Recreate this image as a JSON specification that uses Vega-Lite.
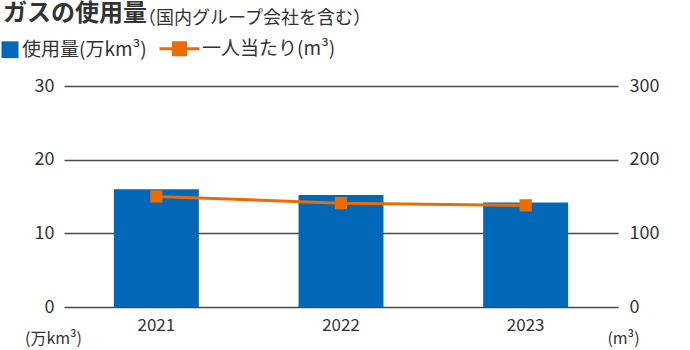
{
  "$schema": "https://vega.github.io/schema/vega-lite/v6.json",
  "autosize": {"type": "none"},
  "width": 554,
  "height": 221,
  "padding": {"left": 64, "top": 86, "right": 72, "bottom": 43},
  "background": "white",
  "config": {
    "font": "Noto Sans CJK JP",
    "view": {"stroke": null},
    "axis": {"labelFont": "Noto Sans CJK JP", "titleFont": "Noto Sans CJK JP", "labelColor": "#333333", "titleColor": "#333333"},
    "legend": {"labelFont": "Noto Sans CJK JP"}
  },
  "title": {
    "text": "ガスの使用量",
    "subtitle": "\u200b　　　　　　　　（国内グループ会社を含む）",
    "anchor": "start",
    "frame": "group",
    "dx": -61,
    "offset": 11,
    "font": "Noto Sans CJK JP",
    "fontSize": 24,
    "fontWeight": "bold",
    "color": "#333333",
    "subtitleFont": "Noto Sans CJK JP",
    "subtitleFontSize": 18,
    "subtitleColor": "#333333",
    "subtitlePadding": -16
  },
  "data": {
    "values": [
      {"year": "2021", "usage": 16.0, "per": 150},
      {"year": "2022", "usage": 15.2, "per": 141},
      {"year": "2023", "usage": 14.2, "per": 138}
    ]
  },
  "encoding": {
    "x": {
      "field": "year",
      "type": "nominal",
      "scale": {"paddingInner": 0.54, "paddingOuter": 0.27},
      "axis": {"title": null, "labelAngle": 0, "domain": false, "ticks": false, "labelPadding": 10, "labelFontSize": 17, "labelColor": "#333333"}
    }
  },
  "layer": [
    {
      "mark": {"type": "bar", "color": "#0068b7"},
      "encoding": {
        "y": {
          "field": "usage",
          "type": "quantitative",
          "scale": {"domain": [0, 30]},
          "axis": {
            "values": [0, 10, 20, 30],
            "grid": true,
            "gridColor": "#4a4a4a",
            "gridWidth": 1.6,
            "domain": false,
            "ticks": false,
            "labelPadding": 10,
            "labelFontSize": 18,
            "title": "(万km³)",
            "titleAngle": 0,
            "titleFontSize": 16,
            "titleFontWeight": "normal",
            "titleAlign": "center",
            "titleBaseline": "middle",
            "titleX": -11,
            "titleY": 252
          }
        },
        "color": {
          "datum": "使用量(万km³)",
          "scale": {"domain": ["使用量(万km³)", "一人当たり(m³)"], "range": ["#0068b7", "#ed6c00"]},
          "legend": {
            "title": null,
            "orient": "none",
            "direction": "horizontal",
            "legendX": -52,
            "legendY": -47,
            "padding": 0,
            "symbolSize": 1600,
            "labelFontSize": 19,
            "labelColor": "#333333",
            "labelOffset": 10,
            "columnPadding": 6,
            "encode": {
              "symbols": {
                "update": {
                  "shape": {"signal": "datum.value == '使用量(万km³)' ? 'M-1,-0.42H-0.15V0.42H-1Z' : 'M-1,0H1M-0.3,-0.3H0.3V0.3H-0.3Z'"},
                  "fill": {"signal": "datum.value == '使用量(万km³)' ? '#0068b7' : '#ed6c00'"},
                  "stroke": {"signal": "datum.value == '使用量(万km³)' ? '#0068b7' : '#ed6c00'"},
                  "strokeWidth": {"signal": "datum.value == '使用量(万km³)' ? 0 : 3"},
                  "opacity": {"value": 1},
                  "fillOpacity": {"value": 1}
                }
              },
              "labels": {
                "update": {
                  "dx": {"signal": "datum.value == '使用量(万km³)' ? -19 : 3"}
                }
              }
            }
          }
        }
      }
    },
    {
      "mark": {"type": "line", "color": "#ed6c00", "strokeWidth": 3, "point": {"shape": "square", "size": 150, "filled": true, "opacity": 1, "color": "#ed6c00"}},
      "encoding": {
        "y": {
          "field": "per",
          "type": "quantitative",
          "scale": {"domain": [0, 300]},
          "axis": {
            "orient": "right",
            "values": [0, 100, 200, 300],
            "grid": false,
            "domain": false,
            "ticks": false,
            "labelPadding": 11,
            "labelFontSize": 18,
            "title": "(m³)",
            "titleAngle": 0,
            "titleFontSize": 16,
            "titleFontWeight": "normal",
            "titleAlign": "center",
            "titleBaseline": "middle",
            "titleX": 5,
            "titleY": 252
          }
        },
        "color": {"datum": "一人当たり(m³)"}
      }
    }
  ],
  "resolve": {"scale": {"y": "independent"}}
}
